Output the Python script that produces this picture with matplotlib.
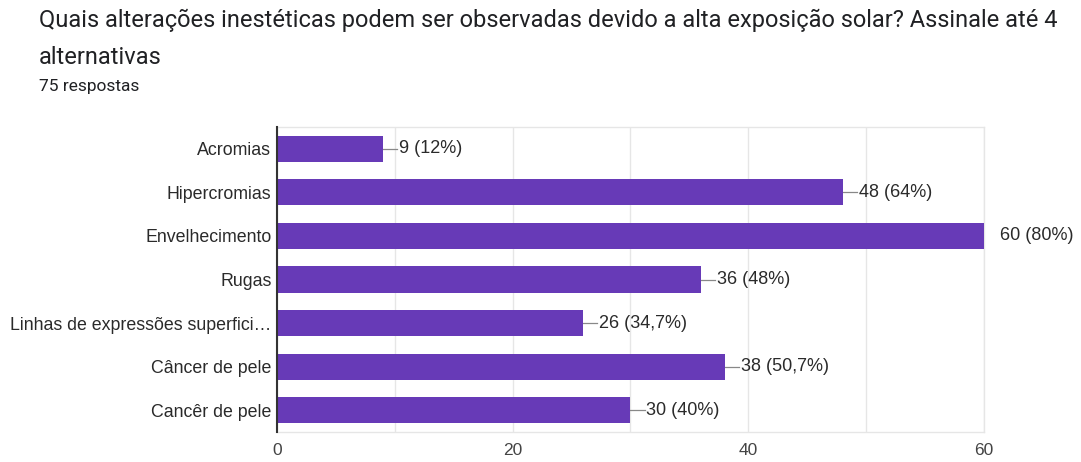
import matplotlib.pyplot as plt
from matplotlib.ticker import MultipleLocator


TITLE = ("Quais alterações inestéticas podem ser observadas devido a alta exposição solar? Assinale até 4\n"
         "alternativas")
SUBTITLE = "75 respostas"

CATEGORIES = [
    "Acromias",
    "Hipercromias",
    "Envelhecimento",
    "Rugas",
    "Linhas de expressões superfici…",
    "Câncer de pele",
    "Cancêr de pele",
]
COUNTS = [9, 48, 60, 36, 26, 38, 30]
PERCENT_LABELS = ["12%", "64%", "80%", "48%", "34,7%", "50,7%", "40%"]
X_TICKS = [0, 20, 40, 60]

BAR_COLOR = "#673ab7"
TEXT_COLOR = "#2a2a2a"
GRID_COLOR = "#e6e6e6"


def main() -> None:
    plt.rcParams["font.family"] = ["Liberation Sans", "DejaVu Sans"]

    fig = plt.figure(figsize=(10.81, 4.62), dpi=100)
    ax = fig.add_axes([0.2562, 0.0649, 0.6541, 0.6602])

    positions = list(range(len(CATEGORIES)))
    ax.barh(positions, COUNTS, height=0.6, color=BAR_COLOR, zorder=3)

    for y, count, pct in zip(positions, COUNTS, PERCENT_LABELS):
        # short connector from the end of the bar to its label
        ax.plot([count, count + 1.2], [y, y], color="#888888", lw=0.9,
                zorder=2, clip_on=True)
        ax.annotate(f"{count} ({pct})", xy=(count, y), xytext=(16, 0),
                    textcoords="offset pixels",
                    va="center", ha="left", fontsize=13, color=TEXT_COLOR,
                    annotation_clip=False)

    ax.set_xlim(0, 60)
    ax.set_ylim(len(CATEGORIES) - 0.5, -0.5)
    ax.set_xticks(X_TICKS)
    ax.xaxis.set_minor_locator(MultipleLocator(10))
    ax.set_yticks(positions)
    ax.set_yticklabels(CATEGORIES)

    ax.grid(axis="x", which="both", color=GRID_COLOR, lw=1, zorder=0)
    ax.tick_params(axis="both", length=0)
    ax.tick_params(axis="x", which="minor", length=0)
    ax.tick_params(axis="y", pad=4, labelsize=12.8, labelcolor=TEXT_COLOR)
    ax.tick_params(axis="x", pad=8, labelsize=12.5, labelcolor="#444444")

    for side in ("top", "right", "bottom"):
        ax.spines[side].set_color(GRID_COLOR)
        ax.spines[side].set_linewidth(1)
    ax.spines["left"].set_color("#333333")
    ax.spines["left"].set_linewidth(1.5)
    ax.spines["left"].set_zorder(4)

    fig.text(0.036, 0.98, TITLE, ha="left", va="top", fontsize=17,
             family=["Roboto", "DejaVu Sans"], color="#202124", linespacing=1.75)
    fig.text(0.036, 0.83, SUBTITLE, ha="left", va="top", fontsize=12.5,
             family=["Roboto", "DejaVu Sans"], color="#202124")

    fig.savefig("out.png", dpi=100)


if __name__ == "__main__":
    main()
